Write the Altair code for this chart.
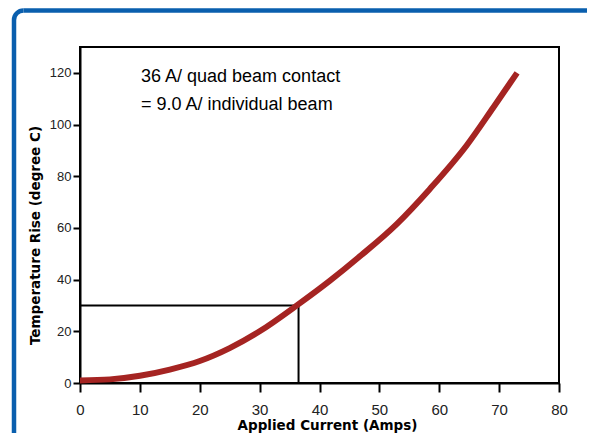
import altair as alt
import math
import pandas as pd

# Data
current = [0, 5, 10, 15, 20, 25, 30, 36.5, 41.7, 47, 52.9, 58.4, 64.6, 69, 73]
temp_rise = [1, 1.4, 2.8, 5.2, 8.5, 13.5, 20, 30.5, 39.5, 49.5, 61.5, 75, 92, 106.5, 120]

marker_current = [36.5]
marker_temp = [30]

note_line1 = "36 A/ quad beam contact"
note_line2 = "= 9.0 A/ individual beam"

x_ticks = list(range(0, 81, 10))
y_ticks = list(range(0, 131, 10))

curve_df = pd.DataFrame({"current": current, "temp": temp_rise})
marker_df = pd.DataFrame({"current": marker_current, "temp": marker_temp, "zero": [0]})

LABEL_FONT = "Liberation Sans"
TITLE_FONT = "DejaVu Sans"
FRAME_BLUE = "#0a5fae"

x_enc = alt.X(
    "current:Q",
    scale=alt.Scale(domain=[0, 80], nice=False),
    axis=alt.Axis(
        values=x_ticks, title="Applied Current (Amps)", grid=False,
        domainColor="black", domainWidth=2, tickColor="black", tickWidth=2,
        tickSize=9, labelFontSize=15, labelFont=LABEL_FONT, labelColor="#222",
        labelPadding=10, labelOverlap=False, labelFlush=False,
        titleFont=TITLE_FONT, titleFontSize=13.5, titleFontWeight="bold",
        titleColor="black", titleX=247, titleY=46.5, titleBaseline="alphabetic",
        titleAlign="center",
    ),
)
y_enc = alt.Y(
    "temp:Q",
    scale=alt.Scale(domain=[0, 130], nice=False),
    axis=alt.Axis(
        values=y_ticks, title="Temperature Rise (degree C)", grid=False,
        labelExpr="datum.value % 20 == 0 ? datum.label : ''",
        domainColor="black", domainWidth=2, tickColor="black", tickWidth=2,
        tickSize=7, labelFontSize=13, labelFont=LABEL_FONT, labelColor="#222",
        labelPadding=2, labelOverlap=False, labelFlush=False,
        titleFont=TITLE_FONT, titleFontSize=13.5, titleFontWeight="bold",
        titleColor="black", titleX=-41, titleY=188, titleBaseline="alphabetic",
        titleAlign="center", titleAngle=270,
    ),
)

curve = alt.Chart(curve_df).mark_line(
    color="#a52422", strokeWidth=6, interpolate="monotone"
).encode(x=x_enc, y=y_enc)

hrule = alt.Chart(marker_df).mark_rule(color="black", strokeWidth=2).encode(
    x=alt.X("zero:Q"), x2="current:Q", y=alt.Y("temp:Q")
)
vrule = alt.Chart(marker_df).mark_rule(color="black", strokeWidth=2).encode(
    x=alt.X("current:Q"), y=alt.Y("zero:Q"), y2="temp:Q"
)

one = alt.Data(values=[{}])
# decorative rounded blue frame (top-left corner visible)
frame_top = alt.Chart(one).mark_rule(color=FRAME_BLUE, strokeWidth=4.5).encode(
    x=alt.value(-56.5), x2=alt.value(560), y=alt.value(-36.5)
)
frame_left = alt.Chart(one).mark_rule(color=FRAME_BLUE, strokeWidth=4.5).encode(
    x=alt.value(-66), y=alt.value(-27), y2=alt.value(480)
)
frame_corner = alt.Chart(one).mark_arc(
    color=FRAME_BLUE, innerRadius=7.25, outerRadius=11.75,
    theta=1.5 * math.pi, theta2=2 * math.pi
).encode(x=alt.value(-56.5), y=alt.value(-27))

text1 = alt.Chart(one).mark_text(
    text=note_line1, align="left", baseline="alphabetic",
    font=LABEL_FONT, fontSize=18, color="black"
).encode(x=alt.value(61), y=alt.value(34.7))
text2 = alt.Chart(one).mark_text(
    text=note_line2, align="left", baseline="alphabetic",
    font=LABEL_FONT, fontSize=18, color="black"
).encode(x=alt.value(61), y=alt.value(63))

chart = alt.layer(
    frame_top, frame_left, frame_corner, hrule, vrule, curve, text1, text2
).properties(
    width=479, height=336,
    autosize=alt.AutoSizeParams(type="none"),
    padding={"left": 72, "top": 39, "right": 28, "bottom": 50},
    background="white",
).configure_view(stroke="black", strokeWidth=2)

chart.save("out.html", embed_options={"renderer": "svg", "actions": False})
